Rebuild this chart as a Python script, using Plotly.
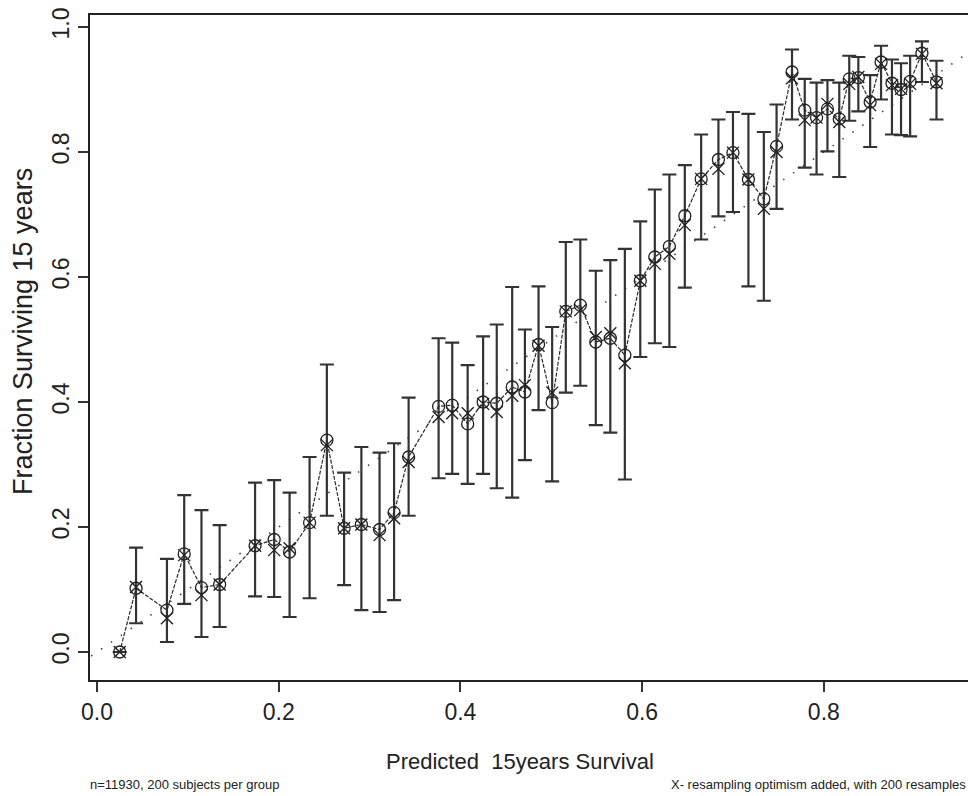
import plotly.graph_objects as go

# Mean predicted 15-year survival per group of 200 subjects
pred = [0.025, 0.043, 0.077, 0.096, 0.115, 0.135, 0.174, 0.195, 0.212, 0.234,
        0.253, 0.272, 0.291, 0.311, 0.327, 0.343, 0.376, 0.391, 0.408, 0.425,
        0.440, 0.457, 0.471, 0.486, 0.501, 0.516, 0.532, 0.549, 0.565, 0.581,
        0.598, 0.614, 0.630, 0.647, 0.665, 0.684, 0.700, 0.717, 0.734, 0.748,
        0.765, 0.779, 0.792, 0.804, 0.817, 0.828, 0.838, 0.851, 0.863, 0.875,
        0.885, 0.895, 0.908, 0.924]

# Observed (Kaplan-Meier) fraction surviving 15 years
observed = [0.000, 0.102, 0.067, 0.157, 0.103, 0.108, 0.170, 0.180, 0.160, 0.207,
            0.339, 0.198, 0.204, 0.196, 0.223, 0.312, 0.393, 0.395, 0.365, 0.400,
            0.398, 0.424, 0.416, 0.492, 0.399, 0.545, 0.555, 0.496, 0.502, 0.475,
            0.594, 0.632, 0.649, 0.698, 0.757, 0.788, 0.799, 0.756, 0.725, 0.809,
            0.928, 0.867, 0.855, 0.869, 0.853, 0.917, 0.919, 0.880, 0.944, 0.910,
            0.900, 0.913, 0.958, 0.912]

# Observed after adding the bootstrap optimism estimate
corrected = [0.000, 0.104, 0.054, 0.155, 0.091, 0.108, 0.170, 0.163, 0.166, 0.207,
             0.331, 0.198, 0.204, 0.187, 0.214, 0.304, 0.376, 0.382, 0.382, 0.397,
             0.384, 0.410, 0.427, 0.490, 0.415, 0.545, 0.547, 0.504, 0.510, 0.462,
             0.594, 0.621, 0.637, 0.683, 0.757, 0.773, 0.799, 0.756, 0.709, 0.800,
             0.918, 0.851, 0.855, 0.877, 0.848, 0.909, 0.920, 0.875, 0.941, 0.907,
             0.901, 0.909, 0.957, 0.910]

# 95% confidence limits of the observed fraction
upper = [None, 0.167, 0.149, 0.251, 0.227, 0.203, 0.271, 0.275, 0.255, 0.312,
         0.460, 0.287, 0.328, 0.319, 0.334, 0.407, 0.502, 0.495, 0.459, 0.505,
         0.524, 0.584, 0.516, 0.585, 0.520, 0.656, 0.660, 0.610, 0.627, 0.645,
         0.689, 0.740, 0.764, 0.779, 0.828, 0.852, 0.864, 0.861, 0.832, 0.876,
         0.964, 0.917, 0.911, 0.915, 0.911, 0.954, 0.952, 0.923, 0.970, 0.948,
         0.942, 0.954, 0.977, 0.946]
lower = [None, 0.046, 0.016, 0.077, 0.024, 0.040, 0.089, 0.088, 0.056, 0.086,
         0.218, 0.107, 0.067, 0.064, 0.083, 0.218, 0.278, 0.285, 0.269, 0.285,
         0.262, 0.247, 0.307, 0.387, 0.273, 0.415, 0.426, 0.363, 0.351, 0.276,
         0.472, 0.494, 0.488, 0.583, 0.660, 0.697, 0.704, 0.585, 0.562, 0.709,
         0.852, 0.775, 0.764, 0.801, 0.760, 0.850, 0.865, 0.808, 0.884, 0.828,
         0.827, 0.825, 0.912, 0.852]

# Line of perfect calibration
ideal = [-0.05, 1.0]

x_ticks = [0.0, 0.2, 0.4, 0.6, 0.8]
y_ticks = [0.0, 0.2, 0.4, 0.6, 0.8, 1.0]

err_plus = [None if u is None else u - o for u, o in zip(upper, observed)]
err_minus = [None if l is None else o - l for l, o in zip(lower, observed)]

INK = "#222222"
FONT = "Liberation Sans, Arial, sans-serif"

fig = go.Figure()

fig.add_trace(go.Scatter(
    x=ideal, y=ideal, mode="lines",
    line=dict(color="#444444", width=1.6, dash="1.5px,10.5px"),
    hoverinfo="skip", showlegend=False,
))

fig.add_trace(go.Scatter(
    x=pred, y=observed, mode="lines+markers",
    line=dict(color="#2a2a2a", width=1.2, dash="4px,1.5px"),
    marker=dict(symbol="circle-open", size=12, color=INK, line=dict(width=1.3, color=INK)),
    error_y=dict(type="data", symmetric=False, array=err_plus, arrayminus=err_minus,
                 color="#333333", thickness=2.2, width=7),
    showlegend=False,
))

fig.add_trace(go.Scatter(
    x=pred, y=corrected, mode="markers",
    marker=dict(symbol="x-thin-open", size=12, color=INK, line=dict(width=1.4, color=INK)),
    showlegend=False,
))

fig.update_layout(
    width=968, height=796,
    margin=dict(l=90, r=0, t=15, b=116),
    paper_bgcolor="white", plot_bgcolor="white",
    font=dict(family=FONT, color=INK),
    xaxis=dict(
        range=[-0.0077, 0.9587], tickvals=x_ticks, ticktext=[f"{v:.1f}" for v in x_ticks],
        showgrid=False, zeroline=False,
        showline=True, mirror=True, linecolor=INK, linewidth=2,
        ticks="outside", ticklen=10, tickwidth=2, tickcolor="#333333",
        tickfont=dict(family=FONT, size=23, color=INK),
    ),
    yaxis=dict(
        range=[-0.0448, 1.0192], tickvals=y_ticks, ticktext=[f"{v:.1f}" for v in y_ticks],
        showgrid=False, zeroline=False,
        showline=True, mirror=False, linecolor=INK, linewidth=2,
        ticks="outside", ticklen=10, tickwidth=2, tickcolor="#333333",
        tickangle=-90,
        tickfont=dict(family=FONT, size=23, color=INK),
    ),
    annotations=[
        dict(text="Predicted  15years Survival", xref="paper", yref="paper",
             x=(520 - 90) / 878, y=0, xanchor="center", yanchor="middle", yshift=-81,
             showarrow=False, font=dict(family=FONT, size=22, color=INK)),
        dict(text="Fraction Surviving 15 years", xref="paper", yref="paper",
             x=0, y=(680 - 332) / 665, xanchor="center", yanchor="middle", xshift=-67,
             textangle=-90,
             showarrow=False, font=dict(family=FONT, size=27, color=INK)),
        dict(text="n=11930, 200 subjects per group", xref="paper", yref="paper",
             x=0, y=0, xanchor="left", yanchor="middle", xshift=-2, yshift=-104,
             showarrow=False, font=dict(family=FONT, size=13, color=INK)),
        dict(text="X- resampling optimism added, with 200 resamples", xref="paper", yref="paper",
             x=1, y=0, xanchor="right", yanchor="middle", yshift=-104,
             showarrow=False, font=dict(family=FONT, size=13, color=INK)),
    ],
)

fig.write_html("out.html")
